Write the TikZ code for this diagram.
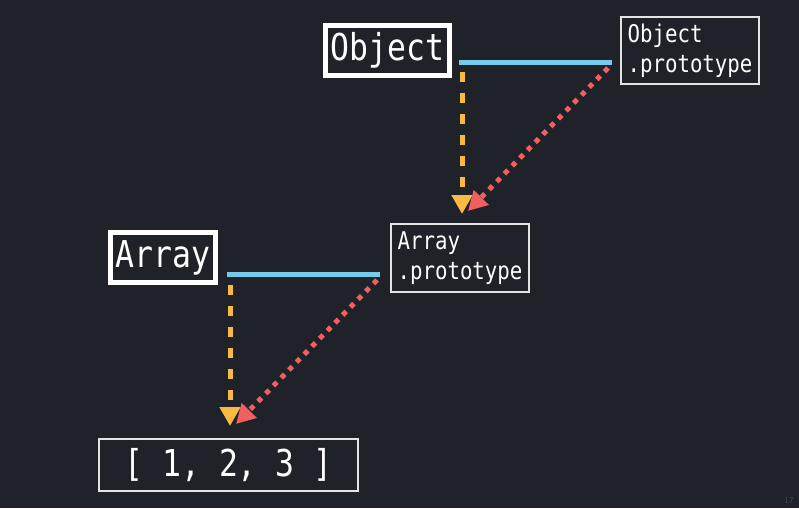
\documentclass[tikz,border=0pt]{standalone}
\usepackage{fontspec}
\newfontfamily\codefont[FakeStretch=0.85]{DejaVu Sans Mono}
\usepackage{tikz}
\usetikzlibrary{arrows.meta, positioning}
\definecolor{bgdark}{RGB}{32,34,42}
\definecolor{linkc}{RGB}{118,202,236}
\definecolor{protoc}{RGB}{250,186,66}
\definecolor{instc}{RGB}{240,96,96}
\definecolor{chalk}{RGB}{228,228,228}

\begin{document}
\begin{tikzpicture}[x=1pt,y=-1pt,
		namebox/.style={draw=white,line width=5pt,text=white,inner sep=0pt,
			font=\codefont\fontsize{37}{40}\selectfont},
		protobox/.style={draw=chalk,line width=2.5pt,text=white,inner sep=0pt,align=left,
			minimum width=138pt,minimum height=67pt,
			font=\codefont\fontsize{24.4}{30}\selectfont},
		valuebox/.style={draw=chalk,line width=2.5pt,text=white,inner sep=0pt,
			font=\codefont\fontsize{37}{40}\selectfont},
		link/.style={linkc,line width=5pt},
		protoarrow/.style={protoc,line width=5pt,dash pattern=on 10pt off 11pt,
			-{Triangle[length=19pt,width=20pt]}},
		instarrow/.style={instc,line width=5pt,dash pattern=on 5pt off 6pt,
			-{Triangle[length=19pt,width=20pt]}}]
			% background
			\fill[bgdark] (0,0) rectangle (799,508);
			\useasboundingbox (0,0) rectangle (799,508);
			% upper level
			\node[namebox,minimum width=124pt,minimum height=50pt] (objlabel) at (387.5,50.5) {Object};
			\node[protobox] (objproto) at (690,50.5) {Object\\.prototype};
			\coordinate (objstem) at (459,63);
			\coordinate (objend) at (612,63);
			\coordinate (objdrop) at (462,72);
			\coordinate (objtip) at (462,214);
			\coordinate (objprotoout) at (608,68);
			\coordinate (objprototip) at (468,211);
			% lower level
			\node[namebox,minimum width=105pt,minimum height=50pt] (arrlabel) at (163,257.5) {Array};
			\node[protobox,minimum height=68pt] (arrproto) at (460,258) {Array\\.prototype};
			\coordinate (arrstem) at (227,274);
			\coordinate (arrend) at (380,274);
			\coordinate (arrdrop) at (230,285);
			\coordinate (arrtip) at (230,426);
			\coordinate (arrprotoout) at (377,280);
			\coordinate (arrprototip) at (236,424);
			% instance
			\node[valuebox,minimum width=259pt,minimum height=52pt] (arrvalue) at (228.5,465) {[ 1, 2, 3 ]};
			% links
			\draw[link] (objstem) -- (objend);
			\draw[link] (arrstem) -- (arrend);
			\draw[protoarrow] (objdrop) -- (objtip);
			\draw[instarrow] (objprotoout) -- (objprototip);
			\draw[protoarrow] (arrdrop) -- (arrtip);
			\draw[instarrow] (arrprotoout) -- (arrprototip);
			% page number
			\node[text=gray!40!bgdark,font=\sffamily\fontsize{9}{10}\selectfont] (pagenum) at (789,500) {17};
		\end{tikzpicture}
\end{document}
